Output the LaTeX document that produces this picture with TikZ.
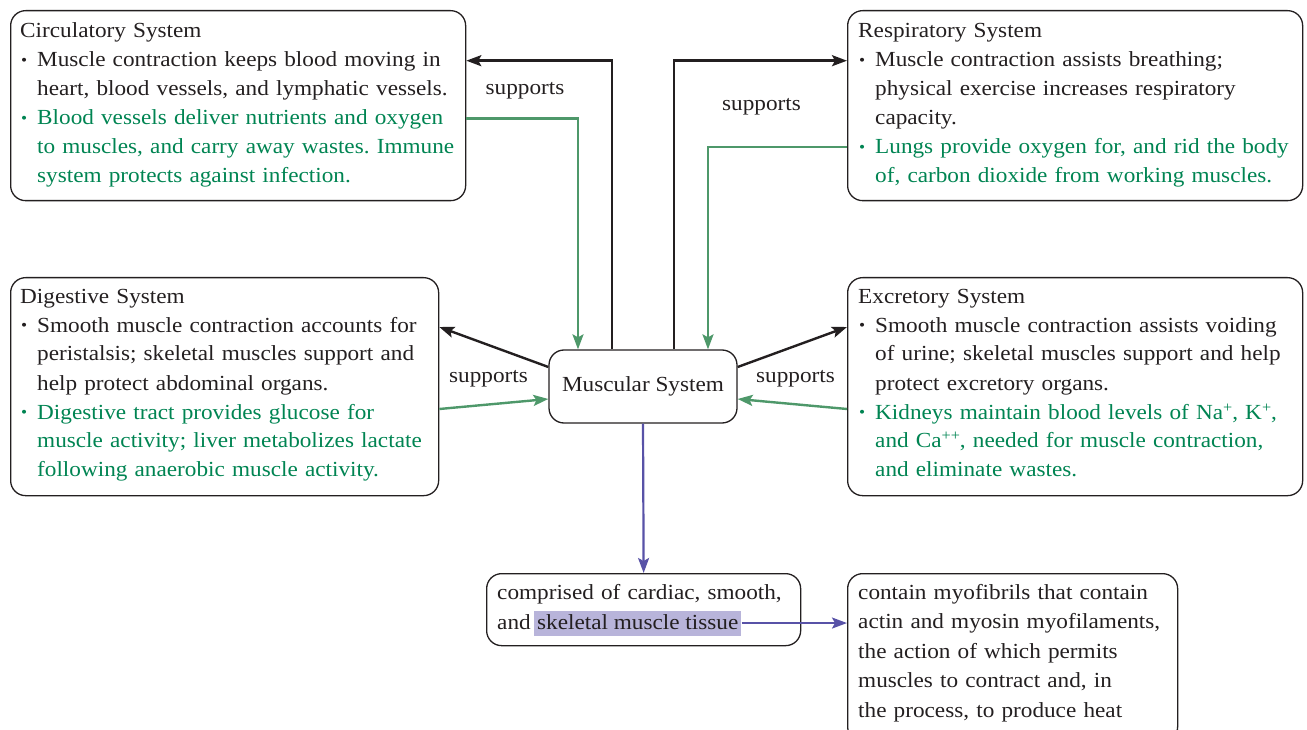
\documentclass[tikz,border=0pt]{standalone}
\usepackage{fontspec}
\setmainfont{Liberation Serif}[FakeStretch=1.08]
\usetikzlibrary{arrows.meta,calc}
\definecolor{txtblack}{RGB}{35,31,32}
\definecolor{txtgreen}{RGB}{0,132,82}
\definecolor{arrgreen}{RGB}{78,152,106}
\definecolor{arrblue}{RGB}{88,82,167}
\definecolor{hlcol}{RGB}{184,180,218}
\newcommand{\bul}{\makebox[17pt][l]{\hspace{1pt}\raisebox{1.5pt}{\fontsize{16}{16}\selectfont\textbullet}}}
\newcommand{\ind}{\hspace*{17pt}}
\newcommand{\sups}[1]{\raisebox{7pt}{\fontsize{15}{15}\selectfont #1}}
\frenchspacing
\begin{document}
\begin{tikzpicture}[x=1pt,y=-1pt,
  sysbox/.style={draw=txtblack, line width=1.3pt, rounded corners=15pt, inner sep=0pt, anchor=north west},
  txt/.style={anchor=base west, inner sep=0pt, text width=480pt, align=left, font=\fontsize{21.5}{29}\selectfont, text=txtblack},
  lbl/.style={inner sep=0pt, anchor=base, font=\fontsize{21.5}{29}\selectfont, text=txtblack},
  tip/.style={-{Stealth[length=15pt,width=11pt,inset=3pt]}},
  blk/.style={tip, draw=txtblack, line width=2.4pt},
  grn/.style={tip, draw=arrgreen, line width=2.4pt},
  blu/.style={tip, draw=arrblue, line width=2.2pt}
]
\useasboundingbox (0,0) rectangle (1307,730);

% boxes
\node[sysbox, minimum width=455pt, minimum height=190pt] (circ) at (10,10) {};
\node[sysbox, minimum width=455pt, minimum height=190pt] (resp) at (847,10) {};
\node[sysbox, minimum width=428pt, minimum height=218pt] (dig) at (10,277) {};
\node[sysbox, minimum width=455pt, minimum height=218pt] (exc) at (847,277) {};
\node[sysbox, anchor=center, minimum width=188pt, minimum height=73pt] (musc) at (643,386.5) {};
\node[sysbox, minimum width=314pt, minimum height=72pt] (tissue) at (486,573) {};
\node[sysbox, minimum width=330pt, minimum height=168pt] (fibril) at (847,573) {};

% texts
\node[txt] (circT) at ([xshift=10pt,yshift=-28pt]circ.north west) {Circulatory System\\
\bul Muscle contraction keeps blood moving in\\
\ind heart, blood vessels, and lymphatic vessels.\\
\color{txtgreen}\bul Blood vessels deliver nutrients and oxygen\\
\ind to muscles, and carry away wastes. Immune\\
\ind system protects against infection.};

\node[txt] (respT) at ([xshift=11pt,yshift=-28pt]resp.north west) {Respiratory System\\
\bul Muscle contraction assists breathing;\\
\ind physical exercise increases respiratory\\
\ind capacity.\\
\color{txtgreen}\bul Lungs provide oxygen for, and rid the body\\
\ind of, carbon dioxide from working muscles.};

\node[txt] (digT) at ([xshift=10pt,yshift=-26pt]dig.north west) {Digestive System\\
\bul Smooth muscle contraction accounts for\\
\ind peristalsis; skeletal muscles support and\\
\ind help protect abdominal organs.\\
\color{txtgreen}\bul Digestive tract provides glucose for\\
\ind muscle activity; liver metabolizes lactate\\
\ind following anaerobic muscle activity.};

\node[txt] (excT) at ([xshift=11pt,yshift=-26pt]exc.north west) {Excretory System\\
\bul Smooth muscle contraction assists voiding\\
\ind of urine; skeletal muscles support and help\\
\ind protect excretory organs.\\
\color{txtgreen}\bul Kidneys maintain blood levels of Na\sups{+}, K\sups{+},\\
\ind and Ca\sups{++}, needed for muscle contraction,\\
\ind and eliminate wastes.};

\node[lbl] (muscT) at ([yshift=-5pt]musc.center) {Muscular System};

\node[txt] (tisT1) at ([xshift=11pt,yshift=-26pt]tissue.north west) {comprised of cardiac, smooth,};
\node[lbl, anchor=base west] (tisT2) at ([yshift=-30pt]tisT1.base west) {and};
\node[lbl, anchor=base west, fill=hlcol, inner xsep=3pt, inner ysep=3.5pt, text depth=3pt] (hl) at ([xshift=3pt]tisT2.base east) {skeletal muscle tissue};

\node[txt, font=\fontsize{21.5}{29.5}\selectfont] (fibT) at ([xshift=11pt,yshift=-26pt]fibril.north west) {contain myofibrils that contain\\
actin and myosin myofilaments,\\
the action of which permits\\
muscles to contract and, in\\
the process, to produce heat};

% labels
\node[lbl] (s1) at (525,95) {supports};
\node[lbl] (s2) at (761.5,110.5) {supports};
\node[lbl] (s3) at (488.5,382.5) {supports};
\node[lbl] (s4) at (795.5,382.5) {supports};

% connectors
\draw[blk] ([xshift=-31pt]musc.north) |- ([yshift=-50.7pt]circ.north east);
\draw[grn] ([yshift=-108.7pt]circ.north east) -| ([xshift=-65pt]musc.north);
\draw[blk] ([xshift=31pt]musc.north) |- ([yshift=-50.7pt]resp.north west);
\draw[grn] ([yshift=-137pt]resp.north west) -| ([xshift=65pt]musc.north);
\draw[blk] ([yshift=19.5pt]musc.west) -- ([yshift=-50pt]dig.north east);
\draw[grn] ([yshift=-132pt]dig.north east) -- ([yshift=-12.5pt]musc.west);
\draw[blk] ([yshift=19.5pt]musc.east) -- ([yshift=-50pt]exc.north west);
\draw[grn] ([yshift=-132pt]exc.north west) -- ([yshift=-12.5pt]musc.east);
\draw[blu] (musc.south) -- (tissue.north);
\draw[blu] (hl.east) -- (fibril.west |- hl.east);
\end{tikzpicture}
\end{document}
